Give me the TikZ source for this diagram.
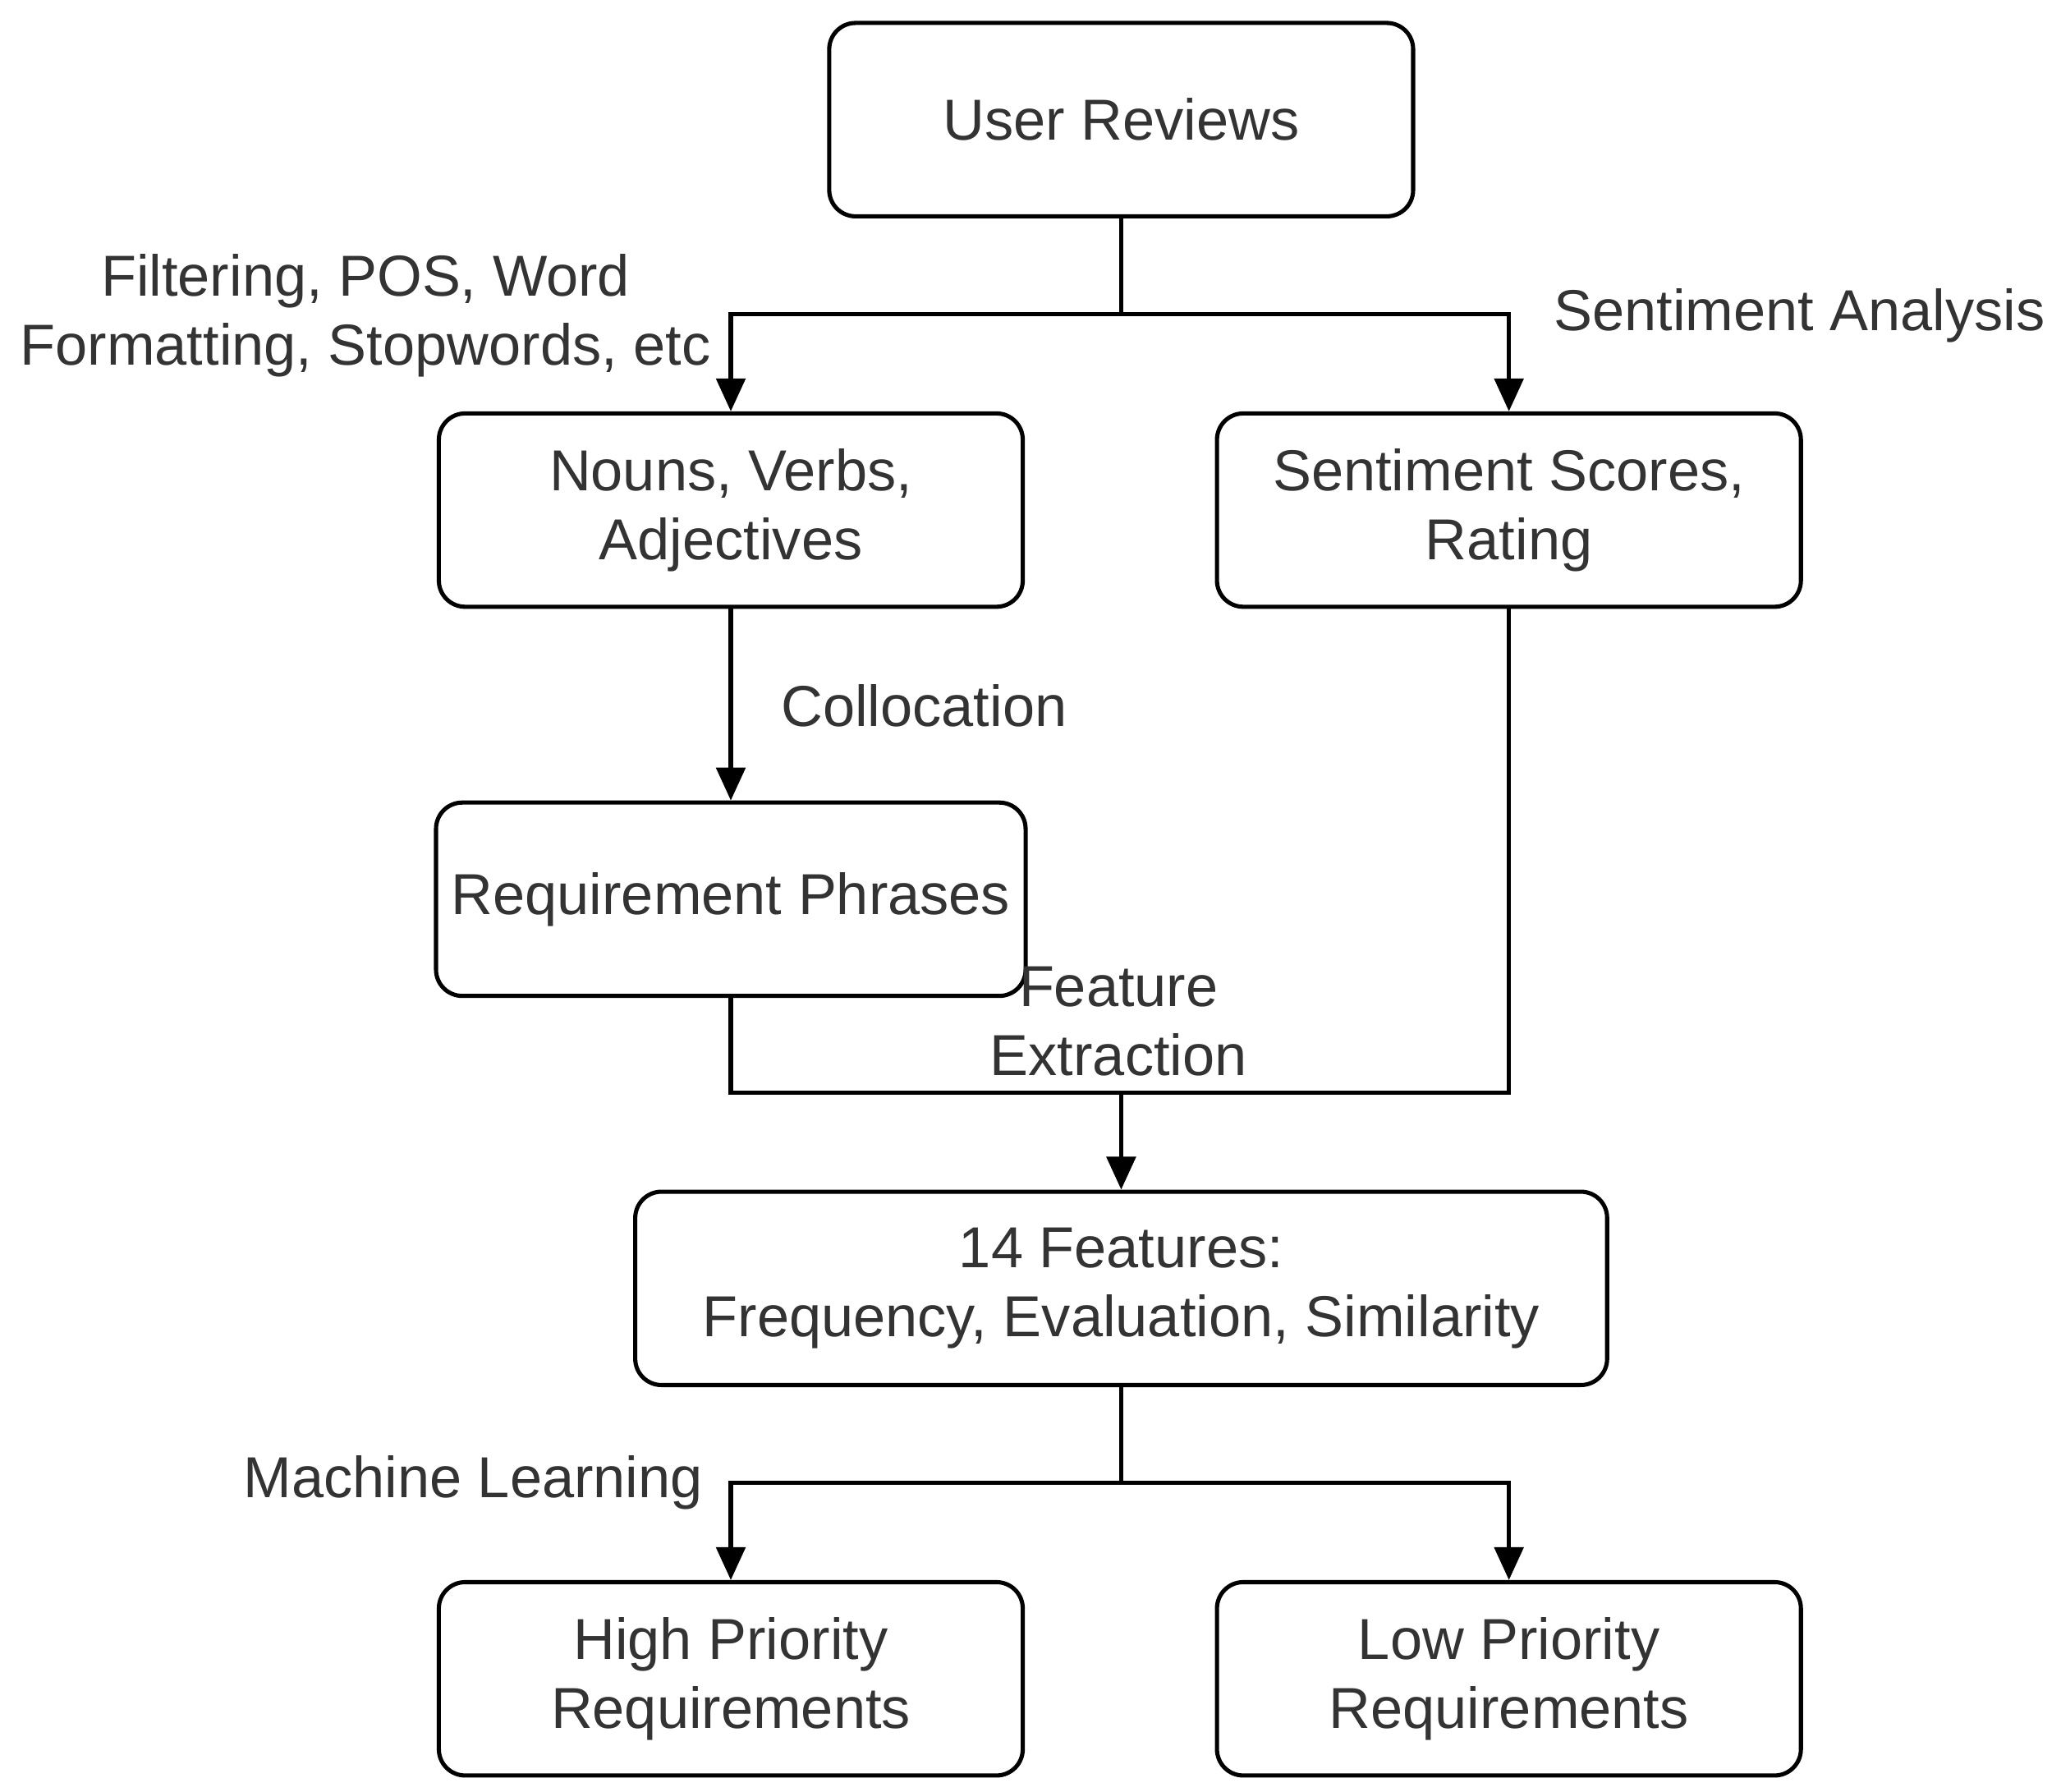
\documentclass[tikz,border=0pt]{standalone}
\usepackage{fontspec}
\setmainfont{Liberation Sans}
\usetikzlibrary{arrows.meta}
\definecolor{txt}{HTML}{333333}
\begin{document}
\begin{tikzpicture}[x=0.01cm,y=-0.01cm,
  box/.style={draw=black,line width=0.9pt,rounded corners=0.2cm,minimum width=4.44cm,minimum height=1.47cm,align=center,text=txt,font=\fontsize{12.5}{15}\selectfont},
  lbl/.style={text=txt,align=center,font=\fontsize{12.5}{15}\selectfont},
  ln/.style={line width=0.9pt},
  arr/.style={ln,-{Triangle[length=0.25cm,width=0.22cm]}}]
\useasboundingbox (0,0) rectangle (1568,1363);
\node[box] (ur) at (853,91) {User Reviews};
\node[box] (nv) at (556,388) {Nouns, Verbs,\\Adjectives};
\node[box] (ss) at (1148,388) {Sentiment Scores,\\Rating};
\node[box] (rp) at (556,684) {Requirement Phrases};
\node[box,minimum width=7.39cm] (ft) at (853,980) {14 Features:\\Frequency, Evaluation, Similarity};
\node[box] (hp) at (556,1277) {High Priority\\Requirements};
\node[box] (lp) at (1148,1277) {Low Priority\\Requirements};
\coordinate (j1) at (853,239);
\coordinate (j2) at (853,831);
\coordinate (j3) at (853,1128);
\draw[ln] (ur.south) -- (j1);
\draw[arr] (j1) -| (nv.north);
\draw[arr] (j1) -| (ss.north);
\draw[arr] (nv.south) -- (rp.north);
\draw[ln] (rp.south) |- (j2);
\draw[ln] (ss.south) |- (j2);
\draw[arr] (j2) -- (ft.north);
\draw[ln] (ft.south) -- (j3);
\draw[arr] (j3) -| (hp.north);
\draw[arr] (j3) -| (lp.north);
\node[lbl] (l1) at (278,240) {Filtering, POS, Word\\Formatting, Stopwords, etc};
\node[lbl] (l2) at (1369,240) {Sentiment Analysis};
\node[lbl] (l3) at (703,537) {Collocation};
\node[lbl] (l4) at (851,777) {Feature\\Extraction};
\node[lbl] (l5) at (360,1128) {Machine Learning};
\end{tikzpicture}
\end{document}
